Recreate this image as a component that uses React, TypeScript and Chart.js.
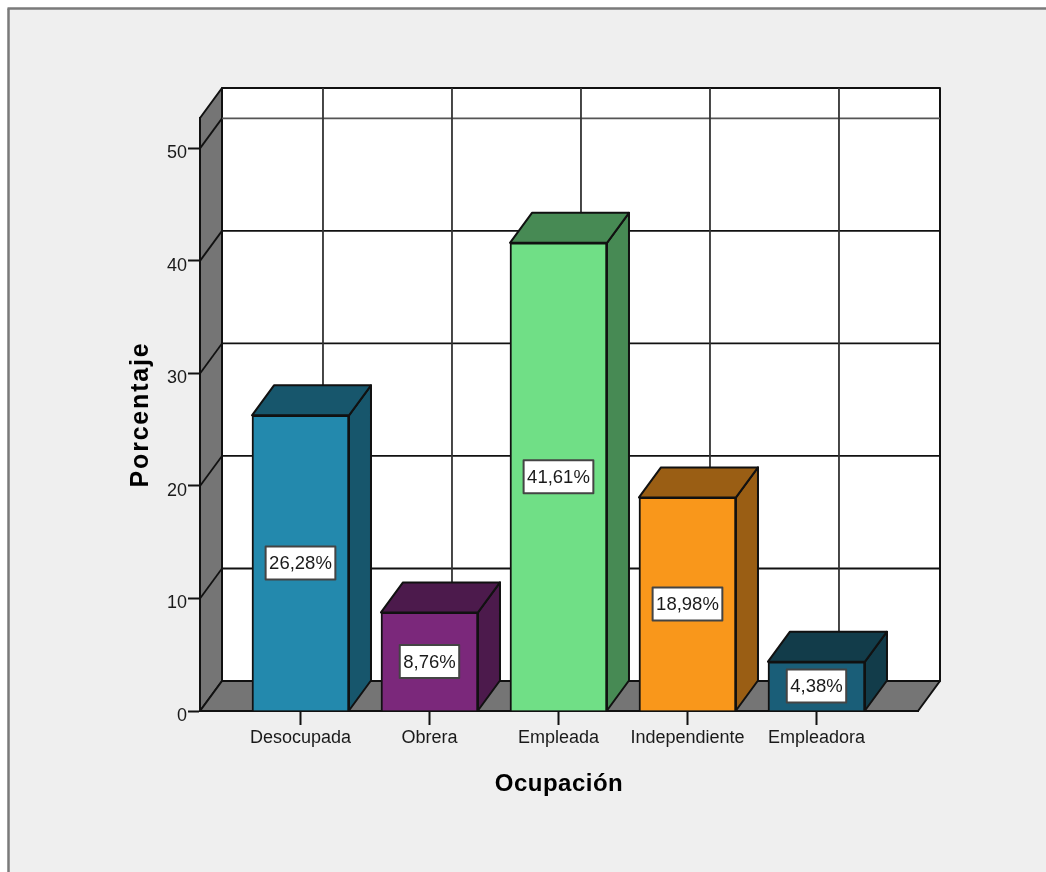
import React, { useEffect, useRef } from "react";
import { Chart, registerables } from "chart.js";

Chart.register(...registerables);

const categories = ["Desocupada", "Obrera", "Empleada", "Independiente", "Empleadora"];
const percentages = [26.28, 8.76, 41.61, 18.98, 4.38];
const frontColors = ["#2389AD", "#7B287B", "#70DF86", "#F9971B", "#1A5E78"];
const shadeColors = ["#17566C", "#4C1A4C", "#478A54", "#9A5E14", "#123C4A"];
const yTicks = [0, 10, 20, 30, 40, 50];

// Depth of the pseudo-3D box, in pixels.
const DEPTH_X = 22;
const DEPTH_Y = -30;
const INK = "#111111";
const WALL = "#757575";
const PANEL = "#EFEFEF";
const FONT = "'Liberation Sans', Arial, sans-serif";

function poly(ctx: CanvasRenderingContext2D, pts: number[][], fill: string | null, stroke: string, width: number) {
  ctx.beginPath();
  pts.forEach(([x, y], i) => (i ? ctx.lineTo(x, y) : ctx.moveTo(x, y)));
  ctx.closePath();
  if (fill) {
    ctx.fillStyle = fill;
    ctx.fill();
  }
  ctx.strokeStyle = stroke;
  ctx.lineWidth = width;
  ctx.lineJoin = "round";
  ctx.stroke();
}

function line(ctx: CanvasRenderingContext2D, x1: number, y1: number, x2: number, y2: number, color: string, width: number) {
  ctx.beginPath();
  ctx.moveTo(x1, y1);
  ctx.lineTo(x2, y2);
  ctx.strokeStyle = color;
  ctx.lineWidth = width;
  ctx.stroke();
}

// Grey panel with its outline, then the three-sided box behind the bars.
const stagePlugin = {
  id: "stage",
  beforeDraw(chart: any) {
    const { ctx, chartArea: a, scales } = chart;
    ctx.save();
    ctx.fillStyle = "#FFFFFF";
    ctx.fillRect(0, 0, chart.width, chart.height);
    ctx.fillStyle = PANEL;
    ctx.fillRect(8, 8, chart.width - 8, chart.height - 8);
    line(ctx, 8.5, 8.5, 8.5, chart.height, "#7A7A7A", 2.5);
    line(ctx, 7.5, 8.5, chart.width, 8.5, "#7A7A7A", 2.5);

    const bx = a.left + DEPTH_X;
    const brx = a.right + DEPTH_X;
    const bTop = a.top + DEPTH_Y;
    const bBot = a.bottom + DEPTH_Y;

    poly(ctx, [[bx, bTop], [brx, bTop], [brx, bBot], [bx, bBot]], "#FFFFFF", INK, 2);
    poly(ctx, [[a.left, a.top], [bx, bTop], [bx, bBot], [a.left, a.bottom]], WALL, INK, 2);
    poly(ctx, [[a.left, a.bottom], [bx, bBot], [brx, bBot], [a.right, a.bottom]], WALL, INK, 2);

    yTicks.slice(1).forEach((v) => {
      const y = scales.y.getPixelForValue(v);
      line(ctx, a.left, y, bx, y + DEPTH_Y, INK, 1.8);
      line(ctx, bx, y + DEPTH_Y, brx, y + DEPTH_Y, v === 50 ? "#555555" : INK, 1.8);
    });
    categories.forEach((_, i) => {
      const x = scales.x.getPixelForValue(i) + DEPTH_X + 0.5;
      line(ctx, x, bTop, x, bBot, "#333333", 1.8);
    });
    ctx.restore();
  },
};

// Top and side faces of every bar, and the boxed value on the front face.
const barFacesPlugin = {
  id: "barFaces",
  afterDatasetsDraw(chart: any) {
    const { ctx } = chart;
    const bars = chart.getDatasetMeta(0).data;
    ctx.save();
    bars.forEach((bar: any, i: number) => {
      const half = bar.width / 2;
      const l = bar.x - half;
      const r = bar.x + half;
      const t = bar.y;
      const b = bar.base;
      poly(ctx, [[r, t], [r + DEPTH_X, t + DEPTH_Y], [r + DEPTH_X, b + DEPTH_Y], [r, b]], shadeColors[i], INK, 2);
      poly(ctx, [[l, t], [l + DEPTH_X, t + DEPTH_Y], [r + DEPTH_X, t + DEPTH_Y], [r, t]], shadeColors[i], INK, 2);

      const text = percentages[i].toFixed(2).replace(".", ",") + "%";
      const cy = (t + b) / 2;
      ctx.font = `18.5px ${FONT}`;
      const w = ctx.measureText(text).width + 7;
      const h = 33;
      ctx.fillStyle = "#FFFFFF";
      ctx.strokeStyle = "#444444";
      ctx.lineWidth = 2;
      ctx.fillRect(bar.x - w / 2, cy - h / 2, w, h);
      ctx.strokeRect(bar.x - w / 2, cy - h / 2, w, h);
      ctx.fillStyle = "#1A1A1A";
      ctx.textAlign = "center";
      ctx.textBaseline = "middle";
      ctx.fillText(text, bar.x, cy + 1);
    });
    ctx.restore();
  },
};

// Chart.js has no letter-spacing option for axis titles, so wrap the title step.
function spaceTitle(scale: any, spacing: string) {
  if (scale.__spaced) return;
  scale.__spaced = true;
  const draw = scale.drawTitle;
  scale.drawTitle = function () {
    const ctx = scale.ctx;
    ctx.letterSpacing = spacing;
    draw.call(scale);
    ctx.letterSpacing = "0px";
  };
}

export default function App() {
  const ref = useRef<HTMLCanvasElement>(null);

  useEffect(() => {
    const chart = new Chart(ref.current!, {
      type: "bar",
      data: {
        datasets: [
          {
            data: percentages.map((v, i) => ({ x: i, y: v })),
            backgroundColor: frontColors,
            borderColor: INK,
            borderWidth: 2,
            barThickness: 97,
          },
        ],
      },
      plugins: [stagePlugin, barFacesPlugin],
      options: {
        animation: false,
        responsive: false,
        layout: { padding: { top: 118, right: 128, left: 0, bottom: 0 } },
        plugins: { legend: { display: false }, title: { display: false }, tooltip: { enabled: false } },
        scales: {
          x: {
            type: "linear",
            offset: false,
            min: -0.779,
            max: 4.787,
            afterFit(scale: any) {
              scale.height = 161;
              spaceTitle(scale, "0.5px");
            },
            grid: { display: true, offset: false, drawOnChartArea: false, drawTicks: true, tickLength: 14, tickWidth: 2, tickColor: INK },
            border: { display: true, color: INK, width: 2 },
            ticks: {
              stepSize: 1,
              includeBounds: false,
              autoSkip: false,
              maxRotation: 0,
              padding: 2,
              color: "#1A1A1A",
              font: { family: FONT, size: 18 },
              callback: (v: any) => categories[v] ?? "",
            },
            title: {
              display: true,
              text: "Ocupación",
              color: "#000000",
              font: { family: FONT, size: 24, weight: "bold" },
              padding: { top: 0, bottom: 73 },
            },
          },
          y: {
            type: "linear",
            min: 0,
            max: 52.7,
            afterFit(scale: any) {
              scale.width = 200;
              spaceTitle(scale, "1.8px");
            },
            grid: { display: true, drawOnChartArea: false, drawTicks: true, tickLength: 12, tickWidth: 2, tickColor: INK },
            border: { display: true, color: INK, width: 2 },
            ticks: {
              stepSize: 10,
              includeBounds: false,
              padding: 1,
              labelOffset: 5,
              color: "#1A1A1A",
              font: { family: FONT, size: 18 },
            },
            title: {
              display: true,
              text: "Porcentaje",
              color: "#000000",
              font: { family: FONT, size: 25, weight: "bold" },
              padding: { top: 126, bottom: 0 },
            },
          },
        },
      },
    } as any);
    return () => chart.destroy();
  }, []);

  return (
    <div style={{ position: "absolute", left: 0, top: 0, width: 1046, height: 872 }}>
      <canvas ref={ref} width={1046} height={872} style={{ display: "block" }} />
    </div>
  );
}
